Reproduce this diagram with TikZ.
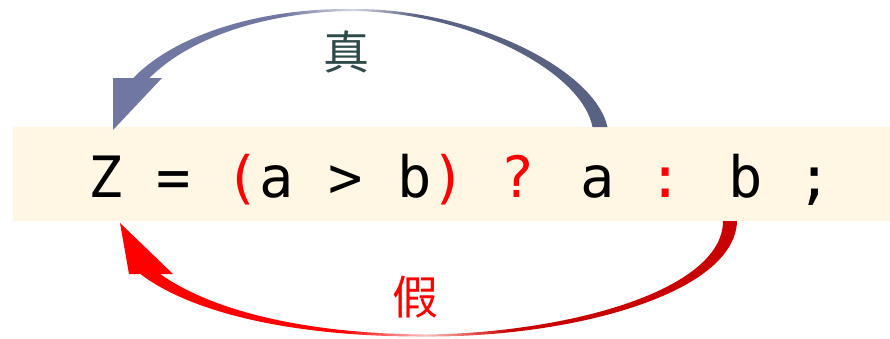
\documentclass[tikz,border=0pt]{standalone}
\usepackage{fontspec}
\newfontfamily\codefont{DejaVu Sans Mono}
\newfontfamily\cjk{Noto Sans CJK SC}
\definecolor{bandfill}{HTML}{FFF7E4}
\definecolor{topL}{HTML}{7078A2}
\definecolor{topR}{HTML}{5A6284}
\definecolor{botL}{HTML}{FF0000}
\definecolor{botR}{HTML}{C80000}
\definecolor{slate}{HTML}{2F4A4A}
\definecolor{opred}{HTML}{FF0000}
\pgfdeclarehorizontalshading{topshade}{100bp}{color(0bp)=(topL); color(25bp)=(topL); color(41bp)=(topL); color(48.3bp)=(topL!30!white); color(55bp)=(topR); color(75bp)=(topR); color(100bp)=(topR)}
\pgfdeclarehorizontalshading{botshade}{100bp}{color(0bp)=(botL); color(25bp)=(botL); color(42bp)=(botL); color(48.8bp)=(botL!25!white); color(56bp)=(botR); color(75bp)=(botR); color(100bp)=(botR)}
\tikzset{
  bandbox/.style={fill=bandfill, draw=none, inner sep=0pt, anchor=north west, minimum width=877bp, minimum height=94bp},
  codetext/.style={inner sep=0pt, anchor=base west, font=\codefont\fontsize{57bp}{60bp}\selectfont},
  cjktext/.style={inner sep=0pt, font=\cjk\fontsize{46bp}{50bp}\selectfont},
}
\begin{document}
\begin{tikzpicture}[x=1bp,y=-1bp]
\useasboundingbox (0,0) rectangle (890,338);
\fill[white] (0,0) rectangle (890,338);
\node[bandbox] (band) at (13,127) {};
% named anchor points of the arrows
\coordinate (tStartO) at (607.5,127);
\coordinate (tStartI) at (592.5,127);
\coordinate (tTopO) at (352,9);
\coordinate (tTopI) at (352,11);
\coordinate (tEndO) at (130.4,81.1);
\coordinate (tEndI) at (139.6,88.9);
\coordinate (bStartO) at (737,221);
\coordinate (bStartI) at (723,221);
\coordinate (bLowO) at (425,336.5);
\coordinate (bLowI) at (425,334.5);
\coordinate (bEndO) at (141,274.5);
\coordinate (bEndI) at (149,265.5);
% true arrow (top)
\shade[shading=topshade]
  (tStartO) .. controls (594,68) and (470,8) .. (tTopO)
  .. controls (260,8) and (172,35) .. (tEndO)
  -- (tEndI)
  .. controls (178,41) and (260,12) .. (tTopI)
  .. controls (470,12) and (582,72) .. (tStartI) -- cycle;
\fill[topL] (113,78) -- (162,78) -- (113,130) -- cycle;
% false arrow (bottom)
\shade[shading=botshade]
  (bStartO) .. controls (735,294) and (571,337.5) .. (bLowO)
  .. controls (300,337) and (195,315) .. (bEndO)
  -- (bEndI)
  .. controls (201,309) and (300,333.5) .. (bLowI)
  .. controls (569,333) and (723,290) .. (bStartI) -- cycle;
\fill[botL] (120,223) -- (129,274) -- (173,274) -- cycle;
% texts
\node[codetext] (code) at (88,197) {Z = \textcolor{opred}{(}a > b\textcolor{opred}{)} \textcolor{opred}{?} a \textcolor{opred}{:} b ;};
\node[cjktext, text=slate] (zhen) at (346,52) {真};
\node[cjktext, text=opred] (jia) at (415,297) {假};
\end{tikzpicture}
\end{document}
